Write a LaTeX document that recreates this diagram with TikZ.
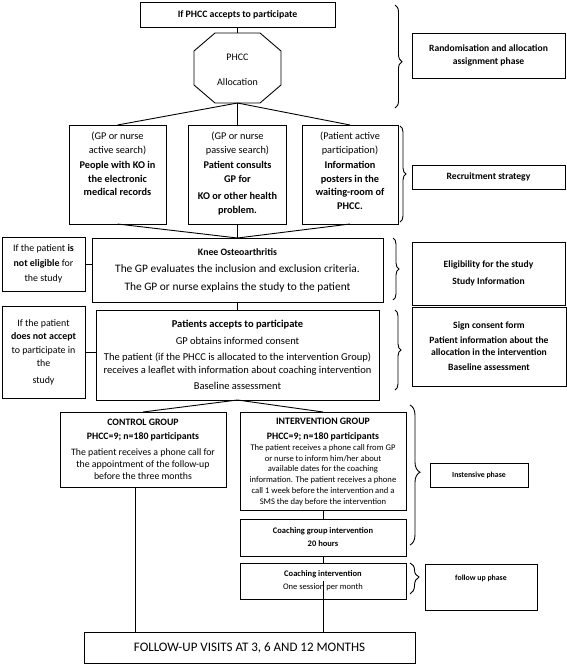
\documentclass[tikz,border=0pt]{standalone}
\usepackage{fontspec}
\setmainfont{Carlito}
\usetikzlibrary{decorations.pathreplacing,calc}
\newcommand\fsz[2]{\fontsize{#1}{#2}\selectfont}
\begin{document}
\begin{tikzpicture}[x=1pt,y=-1pt,
  box/.style={draw, line width=0.9pt, inner sep=0pt, outer sep=0pt, align=center},
  txt/.style={inner sep=0pt, outer sep=0pt, align=center},
  conn/.style={line width=0.9pt},
  brc/.style={decorate, decoration={brace, amplitude=#1}, line width=0.9pt}]
\fill[white] (0,0) rectangle (567,665);
\useasboundingbox (0,0) rectangle (567,665);

% top section
\node[box, minimum width=195, minimum height=25, font=\bfseries\fsz{9.8}{12}] (top) at (237.5,14.5) {If PHCC accepts to participate};
\node[inner sep=0pt, outer sep=0pt, minimum width=87, minimum height=70] (oct) at (237.5,68) {};
\draw[line width=0.9pt] ($(oct.north west)+(21,0)$) -- ($(oct.north east)+(-21,0)$) -- ($(oct.north east)+(0,18)$) -- ($(oct.south east)+(0,-18)$) -- ($(oct.south east)+(-21,0)$) -- ($(oct.south west)+(21,0)$) -- ($(oct.south west)+(0,-18)$) -- ($(oct.north west)+(0,18)$) -- cycle;
\node[txt, font=\fsz{10}{12.5}] (octt) at ($(oct.center)+(0,2)$) {PHCC\\[12pt]Allocation};
\node[box, minimum width=153, minimum height=45, font=\bfseries\fsz{9.6}{12.5}] (rand) at (488.5,55.5) {Randomisation and allocation\\assignment phase};

% recruitment
\node[box, minimum width=97, minimum height=99] (L) at (117.5,174.5) {};
\node[box, minimum width=98, minimum height=99] (M) at (237.5,174.5) {};
\node[box, minimum width=96, minimum height=99] (R) at (350,174.5) {};
\node[txt, anchor=north, font=\fsz{10.3}{13.5}] (Lt) at ($(L.north)+(0,7)$) {(GP or nurse\\active search)\\[2pt]\textbf{People with KO in}\\\textbf{the electronic}\\\textbf{medical records}};
\node[txt, anchor=north, font=\fsz{10.3}{13.5}] (Mt) at ($(M.north)+(0,7)$) {(GP or nurse\\passive search)\\[2pt]\textbf{Patient consults}\\\textbf{GP for}\\[4pt]\textbf{KO or other health}\\\textbf{problem.}};
\node[txt, anchor=north, font=\fsz{10.3}{13.5}] (Rt) at ($(R.north)+(0,7)$) {(Patient active\\participation)\\[2pt]\textbf{Information}\\\textbf{posters in the}\\\textbf{waiting-room of}\\\textbf{PHCC.}};
\node[box, minimum width=153, minimum height=24, font=\bfseries\fsz{9.6}{12}] (recruit) at (488.5,177) {Recruitment strategy};

% eligibility
\node[box, minimum width=83, minimum height=54, font=\fsz{9.9}{15}] (notelig) at (43.5,264) {If the patient \textbf{is}\\\textbf{not eligible} for\\the study};
\node[box, minimum width=291, minimum height=64, font=\fsz{11.4}{17.5}] (knee) at (237.5,270) {{\fsz{9.8}{12}\bfseries Knee Osteoarthritis}\\The GP evaluates the inclusion and exclusion criteria.\\The GP or nurse explains the study to the patient};
\node[box, minimum width=153, minimum height=63, font=\bfseries\fsz{9.6}{17}] (elig) at (488.5,273.5) {Eligibility for the study\\Study Information};

% consent
\node[box, minimum width=83, minimum height=92, font=\fsz{9.9}{13.5}] (notaccept) at (43.5,352) {If the patient\\\textbf{does not accept}\\to participate in\\the\\[3pt]study};
\node[box, minimum width=283, minimum height=90, font=\fsz{10.5}{12.5}] (patients) at (237.5,355) {\textbf{Patients accepts to participate}\\[4pt]GP obtains informed consent\\[4pt]The patient (if the PHCC is allocated to the intervention Group)\\receives a leaflet with information about coaching intervention\\[4pt]Baseline assessment};
\node[box, minimum width=154, minimum height=79, font=\bfseries\fsz{9.6}{12}] (consent) at (489,346.5) {Sign consent form\\[3pt]Patient information about the\\allocation in the intervention\\[3pt]Baseline assessment};

% groups
\node[box, minimum width=166, minimum height=75, font=\fsz{9.8}{12}] (control) at (143,449.5) {\textbf{CONTROL GROUP}\\[2.5pt]\textbf{PHCC=9; n=180 participants}\\[4pt]The patient receives a phone call for\\the appointment of the follow-up\\before the three months};
\node[box, minimum width=166, minimum height=98] (interv) at (323,461) {};
\node[txt, anchor=north, font=\bfseries\fsz{9.8}{12}] (it1) at ($(interv.north)+(0,6.5)$) {INTERVENTION GROUP\\[2.5pt]PHCC=9; n=180 participants};
\node[txt, font=\fsz{8.6}{10.8}] (it2) at (323,475) {The patient receives a phone call from GP\\or nurse to inform him/her about\\available dates for the coaching\\information. The patient receives a phone\\call 1 week before the intervention and a\\SMS the day before the intervention};
\node[box, minimum width=166, minimum height=37, font=\bfseries\fsz{8.5}{13}] (coachg) at (323,537.5) {Coaching group intervention\\20 hours};
\node[box, minimum width=166, minimum height=36, font=\fsz{8.5}{13.3}] (coachi) at (323,581) {\textbf{Coaching intervention}\\One session per month};
\node[box, minimum width=98, minimum height=24, font=\bfseries\fsz{7.8}{10}] (intensive) at (479,475) {Instensive phase};
\node[box, minimum width=112, minimum height=46] (fuphase) at (481,587) {};
\node[txt, font=\bfseries\fsz{7.8}{10}] (fupt) at (481,578) {follow up phase};
\node[box, minimum width=331, minimum height=31, font=\fsz{13}{15}] (followup) at (249.5,647.5) {FOLLOW-UP VISITS AT 3, 6 AND 12 MONTHS};

% connectors
\draw[conn] (top) -- (oct);
\draw[conn] (oct.south) -- (L.north);
\draw[conn] (oct.south) -- (M.north);
\draw[conn] (oct.south) -- (R.north);
\draw[conn] (L.south) -- (knee.north);
\draw[conn] (M.south) -- (knee.north);
\draw[conn] (R.south) -- (knee.north);
\draw[conn] (notelig.east) -- (notelig.east -| knee.west);
\draw[conn] (knee.south) -- (patients.north);
\draw[conn] (notaccept.east) -- (notaccept.east -| patients.west);
\draw[conn] (patients.south) -- (control.north);
\draw[conn] (patients.south) -- (interv.north);
\draw[conn] (interv) -- (coachg);
\draw[conn] (coachg) -- (coachi);
\draw[conn] (coachi.center) -- (coachi.center |- followup.north);
\draw[conn] ([xshift=-8pt]control.south) -- ([xshift=-8pt]control.south |- followup.north);

% braces
\draw[brc=7pt, decoration={aspect=0.55}] (395,5) -- (395,108);
\draw[brc=6pt] (400,126) -- (400,222);
\draw[brc=6pt] (393,238) -- (393,300);
\draw[brc=6pt] (395,310) -- (395,390);
\draw[brc=10pt, decoration={aspect=0.48}] (410,405) -- (410,545);
\draw[brc=9pt, decoration={aspect=0.45}] (410,563) -- (410,594);
\end{tikzpicture}
\end{document}
